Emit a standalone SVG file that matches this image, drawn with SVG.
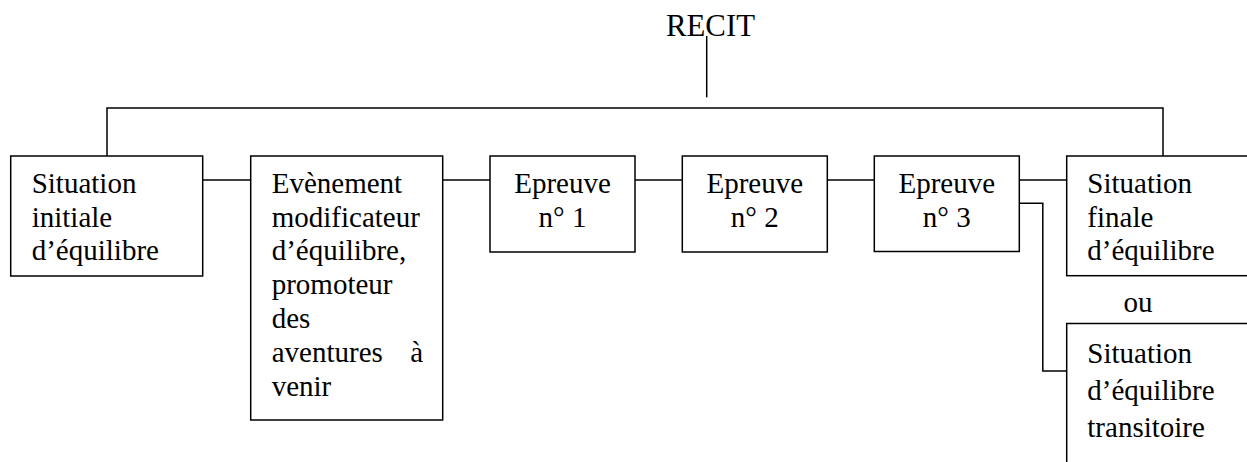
<svg xmlns="http://www.w3.org/2000/svg" width="1247" height="462" viewBox="0 0 1247 462">
<style>
.box{fill:#fff;stroke:#000;stroke-width:1.5}
.ln{fill:none;stroke:#000;stroke-width:1.5}
text{font-family:"Liberation Serif","Times New Roman",serif;font-size:29px;fill:#000}
.c{text-anchor:middle}
</style>
<rect width="1247" height="462" fill="#fff"/>
<g id="connectors">
<line class="ln" x1="706.7" y1="36" x2="706.7" y2="97.3"/>
<polyline class="ln" points="107,156 107,108 1163,108 1163,156"/>
<line class="ln" x1="202.7" y1="180" x2="250.7" y2="180"/>
<line class="ln" x1="442.7" y1="180" x2="490" y2="180"/>
<line class="ln" x1="635" y1="180" x2="682.3" y2="180"/>
<line class="ln" x1="827.3" y1="180" x2="874.3" y2="180"/>
<line class="ln" x1="1019.3" y1="180" x2="1066.7" y2="180"/>
<polyline class="ln" points="1019.3,203.3 1042.8,203.3 1042.8,371 1066.7,371"/>
</g>
<g id="recit">
<text x="710.5" y="36" class="c" style="font-size:30.8px">RECIT</text>
</g>
<g id="n1">
<rect class="box" x="10.7" y="156" width="192" height="120"/>
<text x="31.7" y="193">Situation</text>
<text x="31.7" y="227">initiale</text>
<text x="31.7" y="260">d’équilibre</text>
</g>
<g id="n2">
<rect class="box" x="250.7" y="156" width="192" height="264"/>
<text x="271.7" y="193">Evènement</text>
<text x="271.7" y="227">modificateur</text>
<text x="271.7" y="260">d’équilibre,</text>
<text x="271.7" y="294">promoteur</text>
<text x="271.7" y="328">des</text>
<text x="271.7" y="362">aventures</text>
<text x="423" y="362" style="text-anchor:end">à</text>
<text x="271.7" y="396">venir</text>
</g>
<g id="n3">
<rect class="box" x="490" y="156" width="145" height="96"/>
<text x="562.5" y="193" class="c">Epreuve</text>
<text x="562.5" y="227" class="c">n° 1</text>
</g>
<g id="n4">
<rect class="box" x="682.3" y="156" width="145" height="96"/>
<text x="754.8" y="193" class="c">Epreuve</text>
<text x="754.8" y="227" class="c">n° 2</text>
</g>
<g id="n5">
<rect class="box" x="874.3" y="156" width="145" height="95.5"/>
<text x="946.8" y="193" class="c">Epreuve</text>
<text x="946.8" y="227" class="c">n° 3</text>
</g>
<g id="n6">
<rect class="box" x="1066.7" y="156" width="200" height="119.7"/>
<text x="1087.3" y="193">Situation</text>
<text x="1087.3" y="227">finale</text>
<text x="1087.3" y="260">d’équilibre</text>
</g>
<g id="ou">
<text x="1123.5" y="312">ou</text>
</g>
<g id="n7">
<rect class="box" x="1066.7" y="323.5" width="200" height="160"/>
<text x="1087.3" y="362.7">Situation</text>
<text x="1087.3" y="399.5">d’équilibre</text>
<text x="1087.3" y="436.5">transitoire</text>
</g>
</svg>
